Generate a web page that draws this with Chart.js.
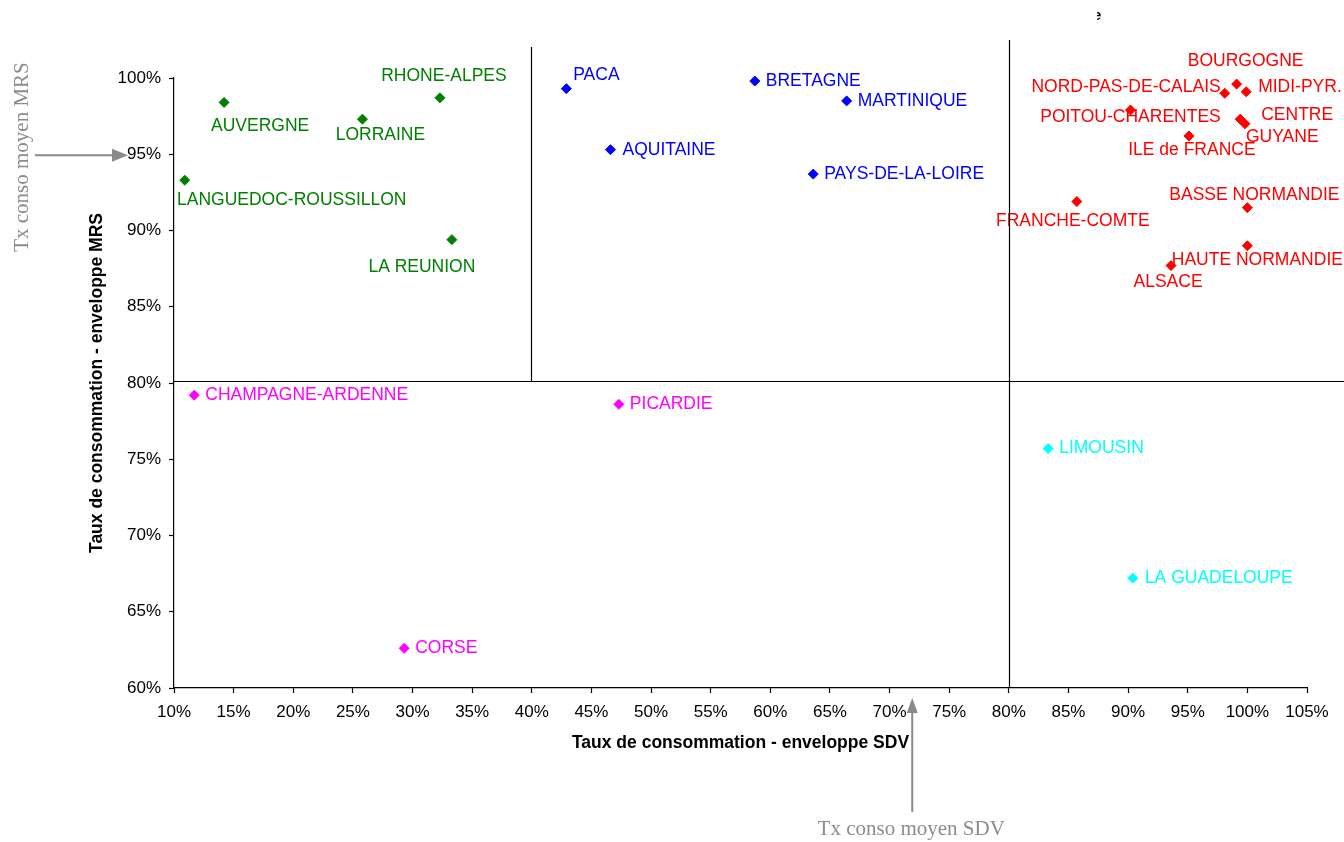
<!DOCTYPE html>
<html>
<head>
<meta charset="utf-8">
<script src="https://cdn.jsdelivr.net/npm/chart.js@4/dist/chart.umd.min.js"></script>
<style>
  html, body { margin: 0; padding: 0; background: #ffffff; }
  canvas { display: block; }
</style>
</head>
<body>
<canvas id="chart" width="1344" height="842"></canvas>
<script>
// Consumption rate per region: SDV envelope (x, %) vs MRS envelope (y, %)
const greenNames = ['AUVERGNE', 'LORRAINE', 'RHONE-ALPES', 'LANGUEDOC-ROUSSILLON', 'LA REUNION'];
const greenSdv   = [14.2, 25.8, 32.3, 10.9, 33.3];
const greenMrs   = [98.4, 97.3, 98.7, 93.3, 89.4];

const blueNames = ['PACA', 'BRETAGNE', 'MARTINIQUE', 'AQUITAINE', 'PAYS-DE-LA-LOIRE'];
const blueSdv   = [42.9, 58.7, 66.4, 46.6, 63.6];
const blueMrs   = [99.3, 99.8, 98.5, 95.3, 93.7];

const redNames = ['BOURGOGNE', 'NORD-PAS-DE-CALAIS', 'MIDI-PYR.', 'POITOU-CHARENTES', 'CENTRE', 'GUYANE',
                  'ILE de FRANCE', 'FRANCHE-COMTE', 'BASSE NORMANDIE', 'HAUTE NORMANDIE', 'ALSACE'];
const redSdv   = [99.1, 98.1, 99.9, 90.2, 99.4, 99.8, 95.1, 85.7, 100.0, 100.0, 93.6];
const redMrs   = [99.6, 99.0, 99.1, 97.9, 97.3, 97.0, 96.2, 91.9, 91.5, 89.0, 87.7];

const magentaNames = ['CHAMPAGNE-ARDENNE', 'PICARDIE', 'CORSE'];
const magentaSdv   = [11.7, 47.3, 29.3];
const magentaMrs   = [79.2, 78.6, 62.6];

const cyanNames = ['LIMOUSIN', 'LA GUADELOUPE'];
const cyanSdv   = [83.3, 90.4];
const cyanMrs   = [75.7, 67.2];

// Quadrant thresholds and average rates
const sdvThresholds = [40, 80];
const mrsThreshold  = 80;
const avgSdv = 71.9;
const avgMrs = 95;

const xTicks = [10, 15, 20, 25, 30, 35, 40, 45, 50, 55, 60, 65, 70, 75, 80, 85, 90, 95, 100, 105];
const yTicks = [60, 65, 70, 75, 80, 85, 90, 95, 100];

// Label placement: [dx, dy, align] relative to the marker centre
const labelPlacement = {
  'AUVERGNE': [36, 24, 'center'],
  'LORRAINE': [18, 16, 'center'],
  'RHONE-ALPES': [4, -22, 'center'],
  'LANGUEDOC-ROUSSILLON': [107, 20, 'center'],
  'LA REUNION': [-30, 28, 'center'],
  'PACA': [30, -14, 'center'],
  'BRETAGNE': [11, 0, 'left'],
  'MARTINIQUE': [11, 0, 'left'],
  'AQUITAINE': [12, 0, 'left'],
  'PAYS-DE-LA-LOIRE': [11, 0, 'left'],
  'BOURGOGNE': [9, -23, 'center'],
  'NORD-PAS-DE-CALAIS': [-4, -6, 'right'],
  'MIDI-PYR.': [12, -5, 'left'],
  'POITOU-CHARENTES': [0, 7, 'center'],
  'CENTRE': [21, -4, 'left'],
  'GUYANE': [1, 13, 'left'],
  'ILE de FRANCE': [3, 14, 'center'],
  'FRANCHE-COMTE': [-4, 20, 'center'],
  'BASSE NORMANDIE': [7, -12, 'center'],
  'HAUTE NORMANDIE': [10, 14, 'center'],
  'ALSACE': [-3, 17, 'center'],
  'CHAMPAGNE-ARDENNE': [11, 0, 'left'],
  'PICARDIE': [11, 0, 'left'],
  'CORSE': [11, 0, 'left'],
  'LIMOUSIN': [11, 0, 'left'],
  'LA GUADELOUPE': [12, 0, 'left']
};

const SANS = '"Liberation Sans", Arial, Helvetica, sans-serif';
const SERIF = '"Liberation Serif", "Times New Roman", serif';

function series(names, xs, ys, color) {
  return {
    label: names.join(','),
    names: names,
    data: xs.map((x, i) => ({ x: x, y: ys[i] })),
    pointStyle: 'rectRot',
    pointRadius: 5,
    pointHoverRadius: 5,
    pointBorderWidth: 1,
    backgroundColor: color,
    borderColor: color,
    showLine: false,
    clip: false
  };
}

// Point names next to each marker
const pointLabels = {
  id: 'pointLabels',
  afterDatasetsDraw(chart) {
    const ctx = chart.ctx;
    ctx.save();
    ctx.font = '17.5px ' + SANS;
    ctx.textBaseline = 'middle';
    chart.data.datasets.forEach((ds, di) => {
      const meta = chart.getDatasetMeta(di);
      ctx.fillStyle = ds.borderColor;
      meta.data.forEach((pt, i) => {
        const name = ds.names[i];
        const p = labelPlacement[name] || [10, 0, 'left'];
        ctx.textAlign = p[2];
        ctx.fillText(name, pt.x + p[0], pt.y + p[1]);
      });
    });
    ctx.restore();
  }
};

// Quadrant separators and average-rate arrows
const quadrants = {
  id: 'quadrants',
  afterDraw(chart) {
    const ctx = chart.ctx;
    const xs = chart.scales.x, ys = chart.scales.y;
    const W = chart.width;
    const yMid = Math.round(ys.getPixelForValue(mrsThreshold)) - 1.5;
    ctx.save();
    ctx.strokeStyle = '#000000';
    ctx.lineWidth = 1.2;
    // horizontal threshold
    ctx.beginPath();
    ctx.moveTo(xs.left, yMid);
    ctx.lineTo(W, yMid);
    ctx.stroke();
    // vertical thresholds
    const x40 = Math.round(xs.getPixelForValue(sdvThresholds[0])) - 0.5;
    ctx.beginPath();
    ctx.moveTo(x40, ys.top - 31);
    ctx.lineTo(x40, yMid);
    ctx.stroke();
    const x80 = Math.round(xs.getPixelForValue(sdvThresholds[1])) + 0.5;
    ctx.beginPath();
    ctx.moveTo(x80, ys.top - 38);
    ctx.lineTo(x80, ys.bottom);
    ctx.stroke();

    // average arrows
    const grey = '#8a8a8a';
    ctx.strokeStyle = grey;
    ctx.fillStyle = grey;
    ctx.lineWidth = 2;
    // MRS average (horizontal arrow pointing at the y axis)
    const ay = ys.getPixelForValue(avgMrs) + 1;
    const tipX = 128;
    ctx.beginPath();
    ctx.moveTo(35, ay);
    ctx.lineTo(tipX - 14, ay);
    ctx.stroke();
    ctx.beginPath();
    ctx.moveTo(tipX, ay);
    ctx.lineTo(tipX - 16, ay - 6.5);
    ctx.lineTo(tipX - 16, ay + 6.5);
    ctx.closePath();
    ctx.fill();
    // SDV average (vertical arrow pointing at the x axis)
    const ax = xs.getPixelForValue(avgSdv);
    const tipY = 698;
    ctx.beginPath();
    ctx.moveTo(ax, 812);
    ctx.lineTo(ax, tipY + 12);
    ctx.stroke();
    ctx.beginPath();
    ctx.moveTo(ax, tipY);
    ctx.lineTo(ax - 5.5, tipY + 15);
    ctx.lineTo(ax + 5.5, tipY + 15);
    ctx.closePath();
    ctx.fill();

    // captions
    ctx.font = '21px ' + SERIF;
    ctx.fillStyle = '#8c8c8c';
    ctx.textAlign = 'center';
    ctx.textBaseline = 'middle';
    ctx.fillText('Tx conso moyen SDV', ax - 1, 829);
    ctx.save();
    ctx.translate(22, 157);
    ctx.rotate(-Math.PI / 2);
    ctx.fillText('Tx conso moyen MRS', 0, 0);
    ctx.restore();

    // fragment of a cut-off caption at the top
    ctx.save();
    ctx.beginPath();
    ctx.rect(1097, 4, 5, 22);
    ctx.clip();
    ctx.fillStyle = '#000000';
    ctx.font = 'bold 15px ' + SANS;
    ctx.textAlign = 'left';
    ctx.textBaseline = 'middle';
    ctx.fillText('e', 1093, 16);
    ctx.restore();

    ctx.restore();
  }
};

new Chart(document.getElementById('chart'), {
  type: 'scatter',
  data: {
    datasets: [
      series(greenNames, greenSdv, greenMrs, '#008000'),
      series(blueNames, blueSdv, blueMrs, '#0000FF'),
      series(redNames, redSdv, redMrs, '#FF0000'),
      series(magentaNames, magentaSdv, magentaMrs, '#FF00FF'),
      series(cyanNames, cyanSdv, cyanMrs, '#00FFFF')
    ]
  },
  options: {
    responsive: false,
    devicePixelRatio: 1,
    animation: false,
    events: [],
    layout: { padding: { top: 78, right: 37, bottom: 0, left: 0 } },
    plugins: {
      legend: { display: false },
      tooltip: { enabled: false },
      title: { display: false }
    },
    scales: {
      x: {
        type: 'linear',
        min: xTicks[0],
        max: xTicks[xTicks.length - 1],
        afterBuildTicks(scale) { scale.ticks = xTicks.map(v => ({ value: v })); },
        afterFit(scale) { scale.height = 154; },
        border: { display: true, color: '#000000', width: 1.2 },
        grid: { display: true, drawOnChartArea: false, drawTicks: true, tickLength: 5, color: '#000000', tickWidth: 1.2 },
        ticks: {
          padding: 9,
          color: '#000000',
          font: { family: SANS, size: 17 },
          maxRotation: 0,
          autoSkip: false,
          callback: v => Math.round(v) + '%'
        },
        title: {
          display: true,
          text: 'Taux de consommation - enveloppe SDV',
          color: '#000000',
          font: { family: SANS, size: 17.5, weight: 'bold' },
          padding: { top: 0, bottom: 88 }
        }
      },
      y: {
        type: 'linear',
        min: yTicks[0],
        max: yTicks[yTicks.length - 1],
        afterBuildTicks(scale) { scale.ticks = yTicks.map(v => ({ value: v })); },
        afterFit(scale) { scale.width = 174; },
        border: { display: true, color: '#000000', width: 1.2 },
        grid: { display: true, drawOnChartArea: false, drawTicks: true, tickLength: 5, color: '#000000', tickWidth: 1.2 },
        ticks: {
          padding: 8,
          color: '#000000',
          font: { family: SANS, size: 17 },
          autoSkip: false,
          callback: v => Math.round(v) + '%'
        },
        title: {
          display: true,
          text: 'Taux de consommation - enveloppe MRS',
          color: '#000000',
          font: { family: SANS, size: 17.5, weight: 'bold' },
          padding: { top: 87, bottom: 0 }
        }
      }
    }
  },
  plugins: [pointLabels, quadrants]
});
</script>
</body>
</html>
